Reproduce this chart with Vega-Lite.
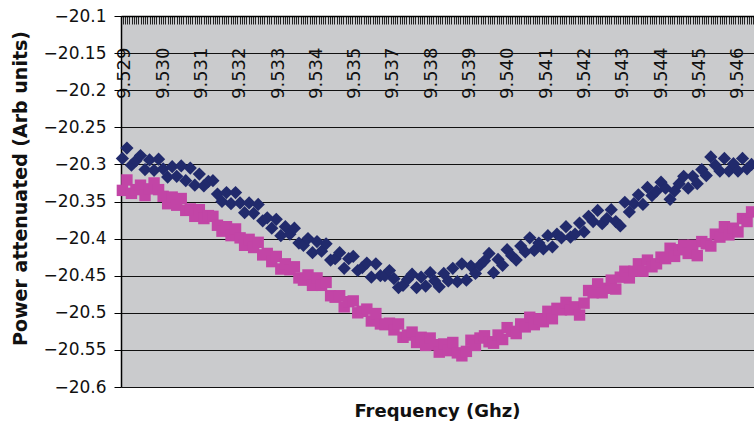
{
"$schema": "https://vega.github.io/schema/vega-lite/v6.json",
"autosize": "none",
"width": 633,
"height": 371,
"padding": {"left": 121, "top": 16, "right": 0, "bottom": 35},
"background": "white",
"config": {"view": {"fill": "#CACBCD", "stroke": null}, "font": "DejaVu Sans"},
"title": {"text": "Frequency (Ghz)", "orient": "bottom", "anchor": "middle", "frame": "group", "fontSize": 18, "fontWeight": "bold", "color": "#111111", "offset": 8, "font": "DejaVu Sans"},
"datasets": {
"navy": [
{"f":9.52880,"p":-20.292},{"f":9.52893,"p":-20.278},{"f":9.52906,"p":-20.301},{"f":9.52919,"p":-20.295},{"f":9.52932,"p":-20.288},{"f":9.52945,"p":-20.307},{"f":9.52958,"p":-20.294},{"f":9.52971,"p":-20.308},{"f":9.52984,"p":-20.293},{"f":9.52997,"p":-20.306},
{"f":9.53010,"p":-20.317},{"f":9.53023,"p":-20.303},{"f":9.53036,"p":-20.316},{"f":9.53049,"p":-20.302},{"f":9.53062,"p":-20.322},{"f":9.53075,"p":-20.305},{"f":9.53088,"p":-20.328},{"f":9.53101,"p":-20.313},{"f":9.53114,"p":-20.329},{"f":9.53127,"p":-20.323},
{"f":9.53140,"p":-20.322},{"f":9.53153,"p":-20.340},{"f":9.53166,"p":-20.350},{"f":9.53179,"p":-20.338},{"f":9.53192,"p":-20.353},{"f":9.53205,"p":-20.338},{"f":9.53218,"p":-20.352},{"f":9.53231,"p":-20.365},{"f":9.53244,"p":-20.352},{"f":9.53257,"p":-20.366},
{"f":9.53270,"p":-20.354},{"f":9.53283,"p":-20.376},{"f":9.53296,"p":-20.372},{"f":9.53309,"p":-20.386},{"f":9.53322,"p":-20.374},{"f":9.53335,"p":-20.396},{"f":9.53348,"p":-20.384},{"f":9.53361,"p":-20.394},{"f":9.53374,"p":-20.386},{"f":9.53387,"p":-20.406},
{"f":9.53400,"p":-20.409},{"f":9.53413,"p":-20.400},{"f":9.53426,"p":-20.419},{"f":9.53439,"p":-20.404},{"f":9.53452,"p":-20.417},{"f":9.53465,"p":-20.407},{"f":9.53478,"p":-20.429},{"f":9.53491,"p":-20.427},{"f":9.53504,"p":-20.419},{"f":9.53517,"p":-20.440},
{"f":9.53530,"p":-20.427},{"f":9.53543,"p":-20.424},{"f":9.53556,"p":-20.443},{"f":9.53569,"p":-20.439},{"f":9.53582,"p":-20.433},{"f":9.53595,"p":-20.452},{"f":9.53608,"p":-20.434},{"f":9.53621,"p":-20.450},{"f":9.53634,"p":-20.450},{"f":9.53647,"p":-20.443},
{"f":9.53660,"p":-20.454},{"f":9.53673,"p":-20.466},{"f":9.53686,"p":-20.463},{"f":9.53699,"p":-20.455},{"f":9.53712,"p":-20.448},{"f":9.53725,"p":-20.466},{"f":9.53738,"p":-20.452},{"f":9.53751,"p":-20.464},{"f":9.53764,"p":-20.446},{"f":9.53777,"p":-20.457},
{"f":9.53790,"p":-20.465},{"f":9.53803,"p":-20.447},{"f":9.53816,"p":-20.457},{"f":9.53829,"p":-20.440},{"f":9.53842,"p":-20.458},{"f":9.53855,"p":-20.434},{"f":9.53868,"p":-20.456},{"f":9.53881,"p":-20.437},{"f":9.53894,"p":-20.447},{"f":9.53907,"p":-20.436},
{"f":9.53920,"p":-20.430},{"f":9.53933,"p":-20.420},{"f":9.53946,"p":-20.446},{"f":9.53959,"p":-20.428},{"f":9.53972,"p":-20.436},{"f":9.53985,"p":-20.415},{"f":9.53998,"p":-20.423},{"f":9.54011,"p":-20.429},{"f":9.54024,"p":-20.410},{"f":9.54037,"p":-20.418},
{"f":9.54050,"p":-20.399},{"f":9.54063,"p":-20.416},{"f":9.54076,"p":-20.406},{"f":9.54089,"p":-20.414},{"f":9.54102,"p":-20.396},{"f":9.54115,"p":-20.411},{"f":9.54128,"p":-20.394},{"f":9.54141,"p":-20.399},{"f":9.54154,"p":-20.384},{"f":9.54167,"p":-20.398},
{"f":9.54180,"p":-20.394},{"f":9.54193,"p":-20.379},{"f":9.54206,"p":-20.391},{"f":9.54219,"p":-20.370},{"f":9.54232,"p":-20.377},{"f":9.54245,"p":-20.362},{"f":9.54258,"p":-20.380},{"f":9.54271,"p":-20.373},{"f":9.54284,"p":-20.361},{"f":9.54297,"p":-20.377},
{"f":9.54310,"p":-20.383},{"f":9.54323,"p":-20.351},{"f":9.54336,"p":-20.364},{"f":9.54349,"p":-20.353},{"f":9.54362,"p":-20.341},{"f":9.54375,"p":-20.354},{"f":9.54388,"p":-20.331},{"f":9.54401,"p":-20.342},{"f":9.54414,"p":-20.336},{"f":9.54427,"p":-20.324},
{"f":9.54440,"p":-20.332},{"f":9.54453,"p":-20.347},{"f":9.54466,"p":-20.336},{"f":9.54479,"p":-20.326},{"f":9.54492,"p":-20.316},{"f":9.54505,"p":-20.332},{"f":9.54518,"p":-20.316},{"f":9.54531,"p":-20.326},{"f":9.54544,"p":-20.307},{"f":9.54557,"p":-20.315},
{"f":9.54570,"p":-20.290},{"f":9.54583,"p":-20.301},{"f":9.54596,"p":-20.309},{"f":9.54609,"p":-20.292},{"f":9.54622,"p":-20.309},{"f":9.54635,"p":-20.299},{"f":9.54648,"p":-20.309},{"f":9.54661,"p":-20.292},{"f":9.54674,"p":-20.306},{"f":9.54687,"p":-20.300}
],
"magenta": [
{"f":9.52880,"p":-20.335},{"f":9.52893,"p":-20.321},{"f":9.52906,"p":-20.339},{"f":9.52919,"p":-20.334},{"f":9.52932,"p":-20.328},{"f":9.52945,"p":-20.342},{"f":9.52958,"p":-20.333},{"f":9.52971,"p":-20.325},{"f":9.52984,"p":-20.334},{"f":9.52997,"p":-20.343},
{"f":9.53010,"p":-20.353},{"f":9.53023,"p":-20.344},{"f":9.53036,"p":-20.355},{"f":9.53049,"p":-20.346},{"f":9.53062,"p":-20.362},{"f":9.53075,"p":-20.360},{"f":9.53088,"p":-20.370},{"f":9.53101,"p":-20.361},{"f":9.53114,"p":-20.373},{"f":9.53127,"p":-20.369},
{"f":9.53140,"p":-20.370},{"f":9.53153,"p":-20.382},{"f":9.53166,"p":-20.390},{"f":9.53179,"p":-20.384},{"f":9.53192,"p":-20.396},{"f":9.53205,"p":-20.387},{"f":9.53218,"p":-20.399},{"f":9.53231,"p":-20.409},{"f":9.53244,"p":-20.401},{"f":9.53257,"p":-20.412},
{"f":9.53270,"p":-20.405},{"f":9.53283,"p":-20.422},{"f":9.53296,"p":-20.420},{"f":9.53309,"p":-20.431},{"f":9.53322,"p":-20.424},{"f":9.53335,"p":-20.441},{"f":9.53348,"p":-20.434},{"f":9.53361,"p":-20.442},{"f":9.53374,"p":-20.438},{"f":9.53387,"p":-20.453},
{"f":9.53400,"p":-20.456},{"f":9.53413,"p":-20.449},{"f":9.53426,"p":-20.463},{"f":9.53439,"p":-20.453},{"f":9.53452,"p":-20.463},{"f":9.53465,"p":-20.459},{"f":9.53478,"p":-20.477},{"f":9.53491,"p":-20.479},{"f":9.53504,"p":-20.477},{"f":9.53517,"p":-20.492},
{"f":9.53530,"p":-20.485},{"f":9.53543,"p":-20.484},{"f":9.53556,"p":-20.500},{"f":9.53569,"p":-20.498},{"f":9.53582,"p":-20.495},{"f":9.53595,"p":-20.511},{"f":9.53608,"p":-20.501},{"f":9.53621,"p":-20.515},{"f":9.53634,"p":-20.516},{"f":9.53647,"p":-20.514},
{"f":9.53660,"p":-20.523},{"f":9.53673,"p":-20.515},{"f":9.53686,"p":-20.533},{"f":9.53699,"p":-20.530},{"f":9.53712,"p":-20.526},{"f":9.53725,"p":-20.540},{"f":9.53738,"p":-20.533},{"f":9.53751,"p":-20.544},{"f":9.53764,"p":-20.534},{"f":9.53777,"p":-20.543},
{"f":9.53790,"p":-20.553},{"f":9.53803,"p":-20.542},{"f":9.53816,"p":-20.551},{"f":9.53829,"p":-20.540},{"f":9.53842,"p":-20.554},{"f":9.53855,"p":-20.558},{"f":9.53868,"p":-20.552},{"f":9.53881,"p":-20.537},{"f":9.53894,"p":-20.544},{"f":9.53907,"p":-20.534},
{"f":9.53920,"p":-20.531},{"f":9.53933,"p":-20.539},{"f":9.53946,"p":-20.541},{"f":9.53959,"p":-20.530},{"f":9.53972,"p":-20.536},{"f":9.53985,"p":-20.520},{"f":9.53998,"p":-20.525},{"f":9.54011,"p":-20.528},{"f":9.54024,"p":-20.515},{"f":9.54037,"p":-20.519},
{"f":9.54050,"p":-20.506},{"f":9.54063,"p":-20.516},{"f":9.54076,"p":-20.508},{"f":9.54089,"p":-20.512},{"f":9.54102,"p":-20.498},{"f":9.54115,"p":-20.508},{"f":9.54128,"p":-20.494},{"f":9.54141,"p":-20.496},{"f":9.54154,"p":-20.486},{"f":9.54167,"p":-20.496},
{"f":9.54180,"p":-20.492},{"f":9.54193,"p":-20.503},{"f":9.54206,"p":-20.487},{"f":9.54219,"p":-20.470},{"f":9.54232,"p":-20.473},{"f":9.54245,"p":-20.461},{"f":9.54258,"p":-20.473},{"f":9.54271,"p":-20.467},{"f":9.54284,"p":-20.456},{"f":9.54297,"p":-20.468},
{"f":9.54310,"p":-20.452},{"f":9.54323,"p":-20.444},{"f":9.54336,"p":-20.453},{"f":9.54349,"p":-20.444},{"f":9.54362,"p":-20.434},{"f":9.54375,"p":-20.444},{"f":9.54388,"p":-20.429},{"f":9.54401,"p":-20.438},{"f":9.54414,"p":-20.434},{"f":9.54427,"p":-20.425},
{"f":9.54440,"p":-20.427},{"f":9.54453,"p":-20.413},{"f":9.54466,"p":-20.424},{"f":9.54479,"p":-20.415},{"f":9.54492,"p":-20.409},{"f":9.54505,"p":-20.420},{"f":9.54518,"p":-20.409},{"f":9.54531,"p":-20.423},{"f":9.54544,"p":-20.404},{"f":9.54557,"p":-20.407},
{"f":9.54570,"p":-20.410},{"f":9.54583,"p":-20.394},{"f":9.54596,"p":-20.398},{"f":9.54609,"p":-20.384},{"f":9.54622,"p":-20.395},{"f":9.54635,"p":-20.386},{"f":9.54648,"p":-20.391},{"f":9.54661,"p":-20.373},{"f":9.54674,"p":-20.377},{"f":9.54687,"p":-20.364}
]
},
"layer": [
{
"data": {"name": "navy"},
"mark": {"type": "point", "opacity": 0},
"encoding": {
"x": {"field": "f", "type": "quantitative",
"scale": {"domain": [-1.7, 279.3], "nice": false, "zero": false},
"axis": {"orient": "top", "tickCount": 281, "labels": false, "grid": false, "domain": false, "ticks": true, "tickSize": -8, "tickColor": "#222222", "tickWidth": 1, "title": null}}
}
},
{
"data": {"name": "navy"},
"mark": {"type": "point", "shape": "diamond", "filled": true, "size": 175, "color": "#212A6C", "opacity": 1, "strokeWidth": 0},
"encoding": {
"x": {"field": "f", "type": "quantitative",
"scale": {"domain": [9.52876, 9.54694], "nice": false, "zero": false},
"axis": {"orient": "top", "values": [9.52887, 9.52997, 9.53107, 9.53217, 9.53327, 9.53437, 9.53547, 9.53657, 9.53767, 9.53877, 9.53987, 9.54097, 9.54207, 9.54317, 9.54427, 9.54537, 9.54647],
"format": ".3f", "labelAngle": -90, "labelAlign": "right", "labelBaseline": "middle", "labelPadding": -31, "ticks": false, "tickSize": 0,
"domain": true, "domainColor": "#000000", "domainWidth": 1.5, "grid": false, "labelFlush": false, "labelOverlap": false,
"labelFontSize": 18, "labelColor": "#111111", "labelFont": "DejaVu Sans", "title": null}},
"y": {"field": "p", "type": "quantitative",
"scale": {"domain": [-20.6, -20.1], "nice": false, "zero": false},
"axis": {"values": [-20.6, -20.55, -20.5, -20.45, -20.4, -20.35, -20.3, -20.25, -20.2, -20.15, -20.1],
"format": ".2~f", "labelFontSize": 17, "labelColor": "#111111", "labelFont": "DejaVu Sans", "labelOverlap": false, "tickSize": 7, "tickColor": "#000000", "tickWidth": 1, "labelPadding": 8,
"domainColor": "#000000", "domainWidth": 1.5, "grid": true, "gridColor": "#111111", "gridWidth": 1,
"title": "Power attenuated (Arb units)", "titleFontSize": 19, "titleFontWeight": "bold", "titleColor": "#111111", "titleFont": "DejaVu Sans",
"titleX": -95, "titleY": 172, "titleAlign": "center", "titleBaseline": "alphabetic", "titleAngle": 270}}
}
},
{
"data": {"name": "magenta"},
"mark": {"type": "point", "shape": "square", "filled": true, "size": 130, "color": "#C245A6", "opacity": 1, "strokeWidth": 0},
"encoding": {
"x": {"field": "f", "type": "quantitative", "scale": {"domain": [9.52876, 9.54694], "nice": false, "zero": false}, "axis": null},
"y": {"field": "p", "type": "quantitative",
"scale": {"domain": [-20.6, -20.1], "nice": false, "zero": false},
"axis": {"values": [-20.6, -20.55, -20.5, -20.45, -20.4, -20.35, -20.3, -20.25, -20.2, -20.15, -20.1],
"format": ".2~f", "labelFontSize": 17, "labelColor": "#111111", "labelFont": "DejaVu Sans", "labelOverlap": false, "tickSize": 7, "tickColor": "#000000", "tickWidth": 1, "labelPadding": 8,
"domainColor": "#000000", "domainWidth": 1.5, "grid": true, "gridColor": "#111111", "gridWidth": 1,
"title": "Power attenuated (Arb units)", "titleFontSize": 19, "titleFontWeight": "bold", "titleColor": "#111111", "titleFont": "DejaVu Sans",
"titleX": -95, "titleY": 172, "titleAlign": "center", "titleBaseline": "alphabetic", "titleAngle": 270}}
}
}
],
"resolve": {"scale": {"x": "independent"}, "axis": {"x": "independent"}}
}
